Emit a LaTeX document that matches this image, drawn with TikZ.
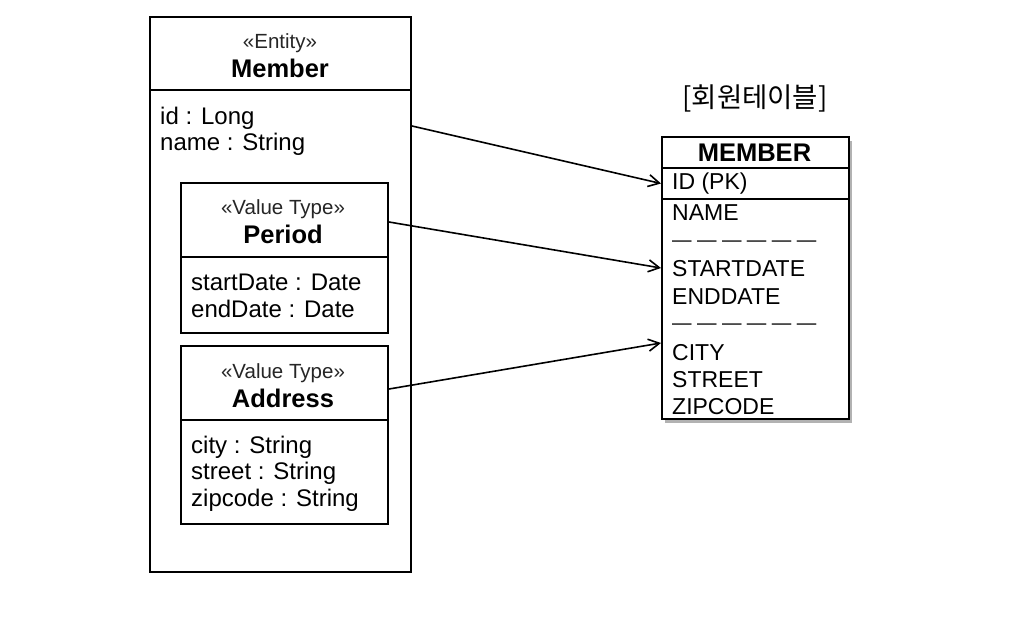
\documentclass[tikz,border=0pt]{standalone}
\usepackage{fontspec}
\setmainfont{Liberation Sans}
\newfontfamily\kofont{Noto Sans CJK KR}
\usetikzlibrary{arrows.meta,shadows,calc}
\begin{document}
\begin{tikzpicture}[x=1pt,y=-1pt,
 box/.style={draw, line width=2pt, inner sep=0pt, anchor=north west},
 rule/.style={line width=2pt},
 attr/.style={anchor=west, inner sep=0pt, yshift=-2pt, font=\fontsize{24}{26}\selectfont},
 tattr/.style={anchor=west, inner sep=0pt, yshift=-2pt, font=\fontsize{23}{26}\selectfont},
 dashtxt/.style={anchor=west, inner sep=0pt, yshift=-4pt, font=\fontsize{19.5}{22}\selectfont},
 stereo/.style={inner sep=0pt, yshift=-1pt, font=\fontsize{20.5}{22}\selectfont, text=black!85},
 title/.style={inner sep=0pt, yshift=-1pt, font=\fontsize{25.5}{28}\selectfont\bfseries},
 link/.style={line width=1.6pt, -{Straight Barb[length=11pt,width=12pt,line width=1.6pt]}}]
\useasboundingbox (0,0) rectangle (1036,616);

% Member entity
\node[box, minimum width=261pt, minimum height=555pt] (member) at (149,16) {};
\draw[rule] (149,90) -- (410,90);
\node[stereo] (entst) at (280,42) {«Entity»};
\node[title] (memt) at (280,67) {Member};
\node[attr] (aid) at (160,116) {id : Long};
\node[attr] (aname) at (160,142) {name : String};

% Period
\node[box, minimum width=207pt, minimum height=150pt] (period) at (180,182) {};
\draw[rule] (180,257) -- (387,257);
\node[stereo] (perst) at (283,208) {«Value Type»};
\node[title] (pert) at (283,233) {Period};
\node[attr] (asd) at (191,280) {startDate : Date};
\node[attr] (aed) at (191,307) {endDate : Date};

% Address
\node[box, minimum width=207pt, minimum height=178pt] (address) at (180,345) {};
\draw[rule] (180,420) -- (387,420);
\node[stereo] (adst) at (283,372) {«Value Type»};
\node[title] (adt) at (283,397) {Address};
\node[attr] (acity) at (191,445) {city : String};
\node[attr] (astreet) at (191,471) {street : String};
\node[attr] (azip) at (191,498) {zipcode : String};

% Table
\node[inner sep=0pt, font=\kofont\fontsize{27.5}{30}\selectfont] (tlabel) at (755,98) {[회원테이블]};
\node[box, fill=white, minimum width=187pt, minimum height=282pt,
  drop shadow={shadow xshift=2.5pt, shadow yshift=-3.5pt, opacity=0.5, fill=black!60}] (table) at (661,136) {};
\node[box, minimum width=187pt, minimum height=31pt] (idrow) at (661,167) {};
\node[title] (tt) at (754.5,152) {MEMBER};
\node[tattr] (cid) at (672,182) {ID (PK)};
\node[tattr] (cname) at (672,211) {NAME};
\node[dashtxt] (d1) at (672,240) {— — — — — —};
\node[tattr] (cstart) at (672,267) {STARTDATE};
\node[tattr] (cend) at (672,295) {ENDDATE};
\node[dashtxt] (d2) at (672,323) {— — — — — —};
\node[tattr] (ccity) at (672,351) {CITY};
\node[tattr] (cstreet) at (672,378) {STREET};
\node[tattr] (czip) at (672,405) {ZIPCODE};

% Connectors
\draw[link] ($(member.north east)+(0,110)$) -- (idrow.west);
\draw[link] ($(period.north east)+(0,40)$) -- ($(table.west |- cstart)+(0,-1)$);
\draw[link] ($(address.north east)+(0,44)$) -- ($(table.west |- ccity)+(0,-10)$);
\end{tikzpicture}
\end{document}
